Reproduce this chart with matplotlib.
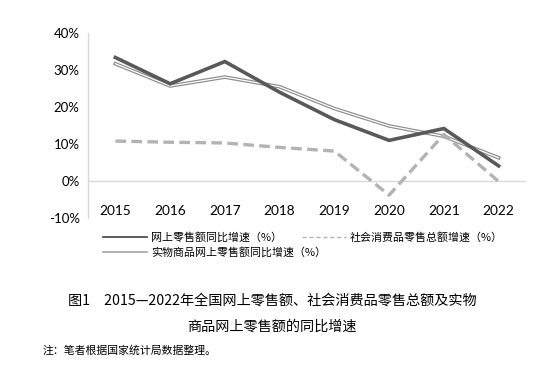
import matplotlib.pyplot as plt
import matplotlib.patheffects as pe
from matplotlib.lines import Line2D
import numpy as np

plt.rcParams['font.family'] = ['Noto Sans CJK SC', 'DejaVu Sans']

# data (%)
years = ['2015', '2016', '2017', '2018', '2019', '2020', '2021', '2022']
online = [33.3, 26.2, 32.2, 23.9, 16.5, 10.9, 14.1, 4.0]
retail_total = [10.7, 10.4, 10.2, 9.0, 8.0, -3.9, 12.5, -0.2]
physical_online = [31.6, 25.6, 28.0, 25.4, 19.5, 14.8, 12.0, 6.2]
yticks = [-10, 0, 10, 20, 30, 40]
names = ['网上零售额同比增速（%）', '社会消费品零售总额增速（%）', '实物商品网上零售额同比增速（%）']

fig = plt.figure(figsize=(5.58, 3.70), dpi=100)
ax = fig.add_axes([88/558, 1-217.7/370, (526-88)/558, (217.7-32.7)/370])

x = np.arange(len(years))
ax.axhline(0, color='#d9d9d9', lw=1.0, zorder=1)

ax.plot(x, online, color='#595959', lw=2.6, solid_joinstyle='miter', zorder=3)
ax.plot(x, physical_online, color='white', lw=0.9, zorder=2,
        path_effects=[pe.Stroke(linewidth=2.6, foreground='#8c8c8c'), pe.Normal()])
ax.plot(x, retail_total, color='#b3b3b3', lw=2.4, dashes=(3.2, 1.6), zorder=2)

ax.set_xlim(-0.5, 7.5)
ax.set_ylim(-10, 40)
ax.set_yticks(yticks)
ax.set_yticklabels([f'{v}%' for v in yticks], family=['Lato', 'DejaVu Sans'], fontsize=9.5)
ax.tick_params(axis='y', length=0, pad=6)
ax.set_xticks([])
for i, yr in enumerate(years):
    ax.text(i, -8.1, yr, ha='center', va='center', fontsize=9.8,
            family=['Lato', 'DejaVu Sans'])

for s in ['top', 'right', 'bottom']:
    ax.spines[s].set_visible(False)
ax.spines['left'].set_color('#d9d9d9')
ax.spines['left'].set_linewidth(1.0)

# legend, drawn as two pieces to match the layout
h1 = Line2D([], [], color='#404040', lw=1.2)
h2 = Line2D([], [], color='#b3b3b3', lw=1.0, dashes=(3, 2))
h3 = Line2D([], [], color='#a6a6a6', lw=1.2)
kw = dict(frameon=False, fontsize=7.9, handlelength=4.0, handletextpad=0.35,
          labelspacing=0.4, borderaxespad=0, borderpad=0, loc='upper left')
fig.legend(handles=[h1, h3], labels=[names[0], names[2]],
           bbox_to_anchor=(103/558, 1-232/370), **kw)
fig.legend(handles=[h2], labels=[names[1]],
           bbox_to_anchor=(302/558, 1-232/370), **kw)

fig.text(272/558, 1-300.7/370, '图1　2015—2022年全国网上零售额、社会消费品零售总额及实物',
         ha='center', va='center', fontsize=10.2)
fig.text(272/558, 1-326.7/370, '商品网上零售额的同比增速',
         ha='center', va='center', fontsize=10.2)
fig.text(43/558, 1-350.7/370, '注：笔者根据国家统计局数据整理。',
         ha='left', va='center', fontsize=7.8)

fig.savefig('out.png', dpi=100)
